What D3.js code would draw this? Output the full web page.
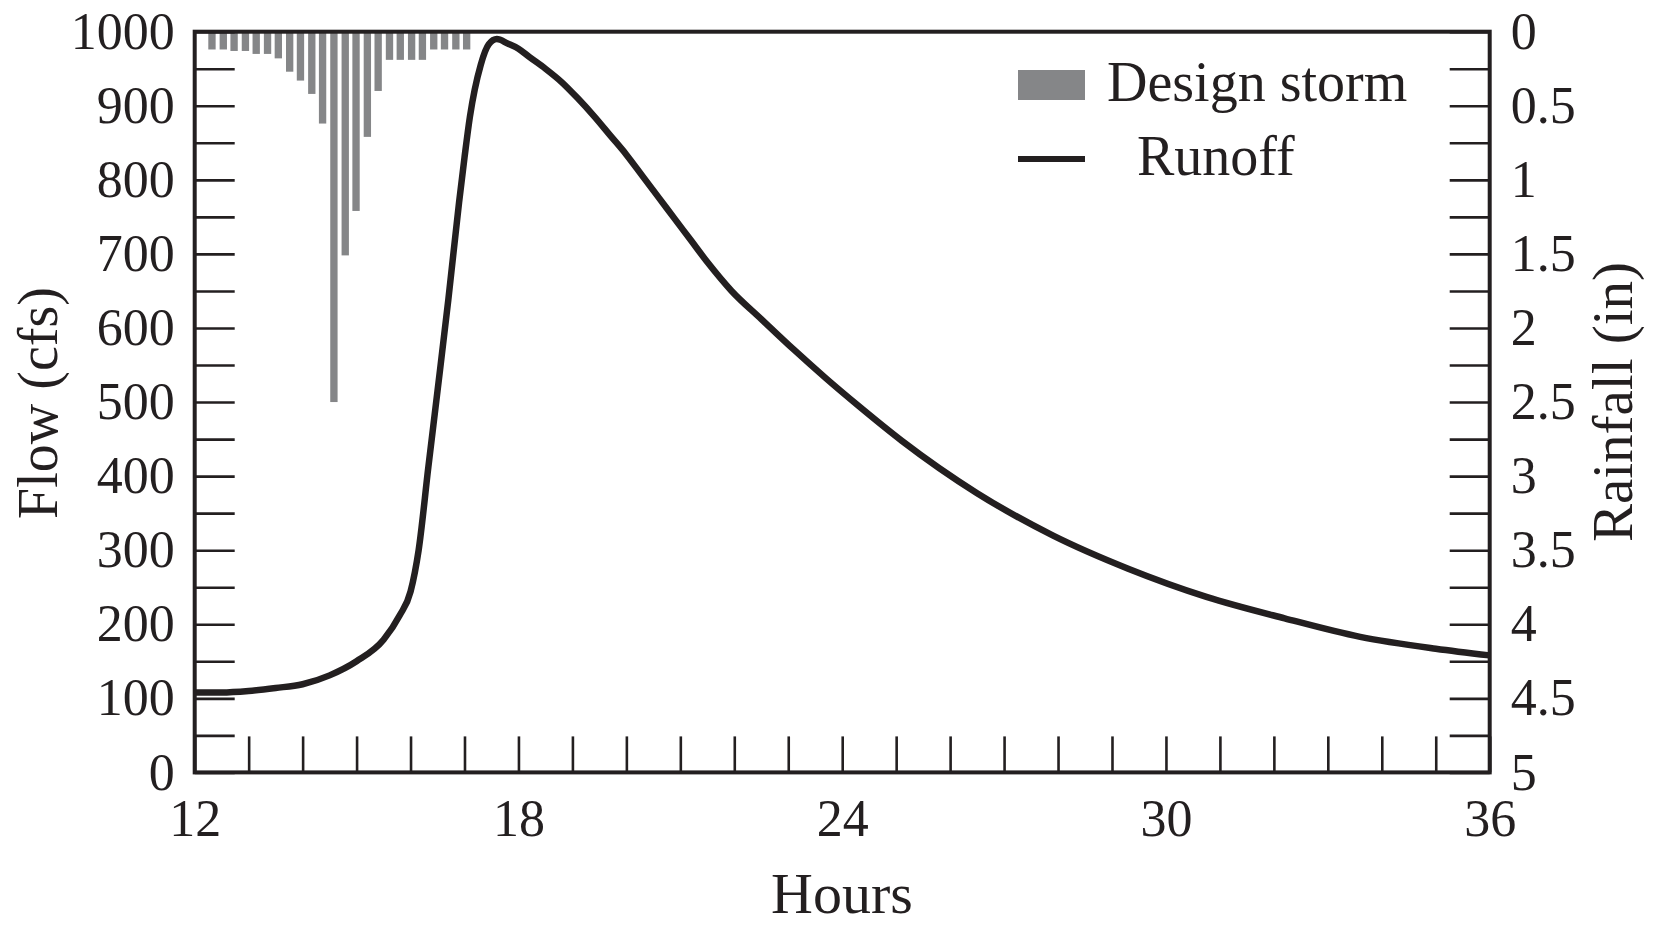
<!DOCTYPE html>
<html>
<head>
<meta charset="utf-8">
<script src="https://cdn.jsdelivr.net/npm/d3@7"></script>
<style>
  html, body { margin: 0; padding: 0; background: #ffffff; }
  svg { display: block; }
  text { font-family: "Liberation Serif", "Times New Roman", serif; fill: #231f20; }
</style>
</head>
<body>
<svg id="chart" width="1659" height="925"></svg>
<script>
// ---- data ----
const stormHours = [12.32, 12.53, 12.73, 12.94, 13.14, 13.35, 13.55, 13.76, 13.96, 14.17, 14.37, 14.58,
                    14.79, 14.99, 15.20, 15.40, 15.61, 15.81, 16.02, 16.22, 16.43, 16.63, 16.84, 17.04];
const stormRain  = [0.12, 0.12, 0.13, 0.13, 0.15, 0.15, 0.18, 0.27, 0.33, 0.42, 0.62, 2.50,
                    1.51, 1.21, 0.71, 0.40, 0.19, 0.19, 0.19, 0.19, 0.12, 0.12, 0.12, 0.12];

const runoffHours = [12.0, 12.5, 13.0, 13.5, 14.0, 14.5, 15.0, 15.5, 15.8, 16.0, 16.15, 16.33, 16.5, 16.7,
                     16.9, 17.0, 17.1, 17.3, 17.45, 17.6, 17.8, 18.0, 18.2, 18.5, 18.8, 19.1, 19.4, 19.7,
                     20.0, 20.3, 20.6, 20.9, 21.2, 21.5, 21.95, 22.5, 23.1, 23.7, 24.3, 25.1, 26.5, 27.9,
                     29.3, 30.75, 32.2, 33.6, 35.0, 36.0];
const runoffCfs   = [108, 108, 110, 114, 119, 131, 150, 179, 212, 244, 300, 412, 515, 638,
                     770, 830, 885, 955, 983, 990, 984, 977, 966, 950, 932, 910, 886, 860,
                     834, 805, 776, 747, 718, 689, 650, 612, 571, 532, 495, 448, 377, 320,
                     275, 237, 208, 183, 167, 158];

const hourTicks  = [12, 18, 24, 30, 36];
const flowTicks  = [0, 100, 200, 300, 400, 500, 600, 700, 800, 900, 1000];
const rainTicks  = [0, 0.5, 1, 1.5, 2, 2.5, 3, 3.5, 4, 4.5, 5];
const legendLabels = ["Design storm", "Runoff"];
const axisTitles = { x: "Hours", yLeft: "Flow (cfs)", yRight: "Rainfall (in)" };

// ---- layout ----
const W = 1659, H = 925;
const m = { left: 194.7, right: 169.3, top: 31.7, bottom: 152.6 };
const iw = W - m.left - m.right, ih = H - m.top - m.bottom;
const ink = "#231f20", barGray = "#858688";
const tickFont = 52, titleFont = 56;

const svg = d3.select("#chart");
const g = svg.append("g").attr("transform", `translate(${m.left},${m.top})`);

const x = d3.scaleLinear().domain([12, 36]).range([0, iw]);
const yF = d3.scaleLinear().domain([0, 1000]).range([ih, 0]);
const yR = d3.scaleLinear().domain([0, 5]).range([0, ih]);

// bars (hang from top)
const barW = x(12.136) - x(12);
g.append("g").selectAll("rect")
  .data(stormHours.map((h, i) => ({ h, r: stormRain[i] })))
  .join("rect")
  .attr("x", d => x(d.h) - barW / 2)
  .attr("y", yR(0))
  .attr("width", barW)
  .attr("height", d => yR(d.r) - yR(0))
  .attr("fill", barGray);

// axes
const minorFlow = d3.range(0, 1001, 50);
const minorRain = d3.range(0, 5.001, 0.25);
const minorHours = d3.range(12, 36.001, 1);

const styleAxis = sel => {
  sel.select(".domain").remove();
  sel.selectAll(".tick line").attr("stroke", ink).attr("stroke-width", 2.6);
  sel.selectAll(".tick text").style("font-size", tickFont + "px").attr("fill", ink);
};

g.append("g")
  .call(d3.axisLeft(yF).tickValues(minorFlow).tickSize(-40).tickPadding(20)
        .tickFormat(d => flowTicks.includes(d) ? d3.format("d")(d) : ""))
  .call(styleAxis);

g.append("g").attr("transform", `translate(${iw},0)`)
  .call(d3.axisRight(yR).tickValues(minorRain).tickSize(-40).tickPadding(21)
        .tickFormat(d => rainTicks.some(t => Math.abs(t - d) < 1e-9) ? String(+d.toFixed(2)) : ""))
  .call(styleAxis);

g.append("g").attr("transform", `translate(0,${ih})`)
  .call(d3.axisBottom(x).tickValues(minorHours).tickSize(-36).tickPadding(27)
        .tickFormat(d => hourTicks.includes(d) ? String(d) : ""))
  .call(styleAxis);

// runoff line
const line = d3.line()
  .x((d, i) => x(runoffHours[i]))
  .y(d => yF(d))
  .curve(d3.curveMonotoneX);
g.append("path")
  .datum(runoffCfs)
  .attr("d", line)
  .attr("fill", "none")
  .attr("stroke", ink)
  .attr("stroke-width", 6.5)
  .attr("stroke-linejoin", "round");

// frame
g.append("rect")
  .attr("x", 0).attr("y", 0).attr("width", iw).attr("height", ih)
  .attr("fill", "none").attr("stroke", ink).attr("stroke-width", 4);

// axis titles
svg.append("text")
  .attr("x", 842).attr("y", 913)
  .attr("text-anchor", "middle")
  .style("font-size", "58px")
  .text(axisTitles.x);

svg.append("text")
  .attr("transform", `translate(57,403) rotate(-90)`)
  .attr("text-anchor", "middle")
  .style("font-size", titleFont + "px")
  .text(axisTitles.yLeft);

svg.append("text")
  .attr("transform", `translate(1632,402) rotate(-90)`)
  .attr("text-anchor", "middle")
  .style("font-size", "57px")
  .text(axisTitles.yRight);

// legend
const lg = svg.append("g");
lg.append("rect").attr("x", 1018).attr("y", 70).attr("width", 67).attr("height", 30).attr("fill", barGray);
lg.append("line").attr("x1", 1018).attr("x2", 1085).attr("y1", 159).attr("y2", 159)
  .attr("stroke", ink).attr("stroke-width", 6);
lg.append("text").attr("x", 1107).attr("y", 101).style("font-size", titleFont + "px").text(legendLabels[0]);
lg.append("text").attr("x", 1137).attr("y", 175).style("font-size", titleFont + "px").text(legendLabels[1]);
</script>
</body>
</html>
